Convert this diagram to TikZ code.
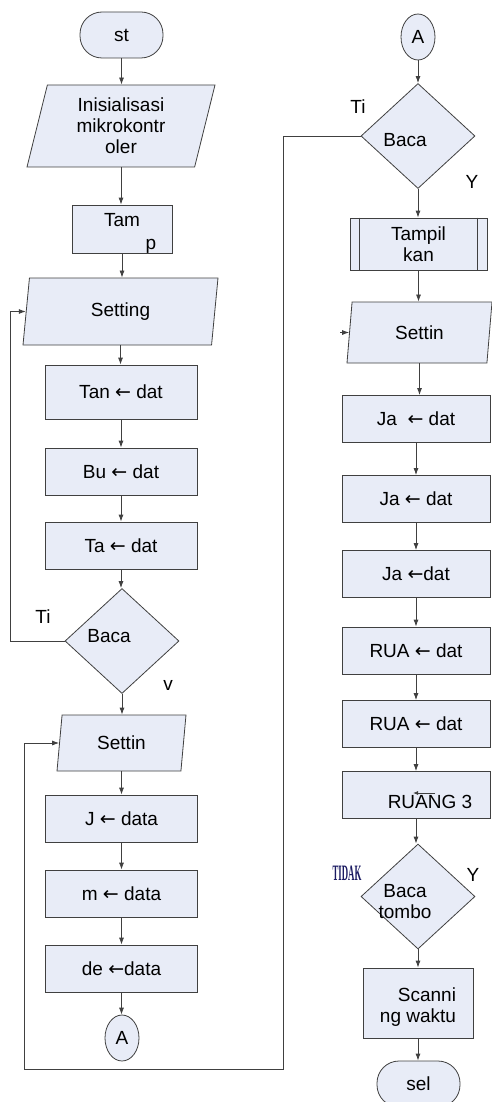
\documentclass[tikz,border=0pt]{standalone}
\usepackage{fontspec}
\setmainfont{Liberation Sans}
\newfontfamily\tidakfont{Liberation Serif}
\newfontfamily\arrowfont{DejaVu Sans}
\usetikzlibrary{shapes.geometric,arrows.meta}
\definecolor{boxfill}{RGB}{232,236,247}
\definecolor{edge}{RGB}{64,64,64}
\newcommand{\getsarrow}{{\arrowfont ←}}

\begin{document}
\begin{tikzpicture}[x=1pt,y=-1pt,
	font=\fontsize{19}{21}\selectfont,
	base/.style={draw=edge,fill=boxfill,line width=0.8pt,inner sep=0pt,align=center},
	proc/.style={base,rectangle,minimum width=152pt,minimum height=47pt},
	procR/.style={proc,minimum width=148pt},
	io/.style={base,trapezium,trapezium left angle=70,trapezium right angle=110,trapezium stretches body},
	term/.style={base,rectangle,rounded corners=22pt,minimum width=83pt,minimum height=46pt},
	conn/.style={base,ellipse,minimum width=34pt,minimum height=46pt},
	dec/.style={base,diamond,minimum width=114pt,minimum height=105pt},
	arr/.style={draw=edge,line width=0.8pt,-{Latex[length=7pt,width=5pt]}},
	]
	\useasboundingbox (0,0) rectangle (491,1102);
	
	% left column
	\node[term] (st)   at (121.5,35) {st};
	\node[io,minimum width=188pt,minimum height=82pt] (init) at (121,126) {Inisialisasi\\mikrokontr\\oler};
	\node[proc,minimum width=100pt,minimum height=48pt,
		label={[align=center,yshift=-4pt]center:Tam\\[2pt]\hspace*{58pt}p}] (tamp) at (122,229) {};
	\node[io,minimum width=195pt,minimum height=67pt] (set1) at (120.5,311.5) {Setting};
	\node[proc,minimum height=54pt] (tan) at (121,392)   {Tan \getsarrow\ dat};
	\node[proc] (bu)  at (121,471.5) {Bu \getsarrow\ dat};
	\node[proc] (ta)  at (121,545.5) {Ta \getsarrow\ dat};
	\node[dec,label={[xshift=-13pt,yshift=5pt]center:Baca}] (baca1) at (122,641) {};
	\node[io,minimum width=129pt,minimum height=56pt] (set2) at (121.5,743) {Settin};
	\node[proc] (jam) at (121.5,818.5) {J \getsarrow\ data};
	\node[proc] (men) at (121.5,893.5) {m \getsarrow\ data};
	\node[proc] (det) at (121.5,968.5) {de \getsarrow data};
	\node[conn] (A1)  at (122,1038) {A};
	
	% right column
	\node[conn] (A2) at (418,37) {A};
	\node[dec,label={[xshift=-13pt,yshift=-4pt]center:Baca}] (baca2) at (418,136) {};
	\node[base,rectangle,minimum width=137pt,minimum height=52pt] (tampil) at (418.5,244) {Tampil\\kan};
	\draw[edge,line width=0.8pt] ([xshift=10pt]tampil.north west) -- ([xshift=10pt]tampil.south west);
	\draw[edge,line width=0.8pt] ([xshift=-10pt]tampil.north east) -- ([xshift=-10pt]tampil.south east);
	\node[io,minimum width=145pt,minimum height=61pt] (set3) at (419.5,332.5) {Settin};
	\node[procR] (ja1)  at (416,419)   {Ja \ \getsarrow\ dat};
	\node[procR] (ja2)  at (416,499)   {Ja \getsarrow\ dat};
	\node[procR] (ja3)  at (416,574)   {Ja \getsarrow dat};
	\node[procR] (rua1) at (416,650.5) {RUA \getsarrow\ dat};
	\node[procR] (rua2) at (416,724)   {RUA \getsarrow\ dat};
	\node[procR,label={[xshift=14pt,yshift=-7pt]center:RUANG 3}] (rua3) at (416,795) {};
	\draw[arr,-{Latex[length=5pt,width=4pt]}] ([xshift=19pt,yshift=2pt]rua3.center) -- ([xshift=-3pt,yshift=2pt]rua3.center);
	\node[dec,label={[align=center,xshift=-13pt,yshift=-5pt]center:Baca\\tombo}] (baca3) at (418,896.5) {};
	\node[base,rectangle,align=right,minimum width=110pt,minimum height=70pt] (scan) at (418,1003) {\mbox{}\\Scanni\\ng waktu};
	\node[term] (sel) at (418.5,1084) {sel};
	
	% straight arrows
	\foreach \a/\b in {st/init,init/tamp,tamp/set1,set1/tan,tan/bu,bu/ta,ta/baca1,baca1/set2,set2/jam,jam/men,men/det,det/A1,
		A2/baca2,baca2/tampil,tampil/set3,set3/ja1,ja1/ja2,ja2/ja3,ja3/rua1,rua1/rua2,rua2/rua3,rua3/baca3,baca3/scan,scan/sel}
	\draw[arr] (\a.south) -- (\a.south |- \b.north);
	
	% loop back lines
	\coordinate (loopL) at (10,0);
	\coordinate (loopR) at (283,1069);
	\coordinate (loopB) at (24,1069);
	\draw[arr] (baca1.west) -| (loopL |- set1.left side) -- (set1.left side);
	\draw[arr] (baca2.west) -| (loopR) -- (loopB) |- (set2.left side);
	\draw[arr] ([xshift=-9pt]set3.left side) -- (set3.left side);
	
	% branch labels
	\node (ti1) at (43,617)  {Ti};
	\node (v1)  at (168,685) {v};
	\node (ti2) at (358,107) {Ti};
	\node (y2)  at (472,182) {Y};
	\node[font=\tidakfont\bfseries\fontsize{22}{22}\selectfont,xscale=0.4,text=edge!60!blue!70!black] (tidak) at (347,873) {TIDAK};
	\node (y3)  at (473,875) {Y};
\end{tikzpicture}
\end{document}
